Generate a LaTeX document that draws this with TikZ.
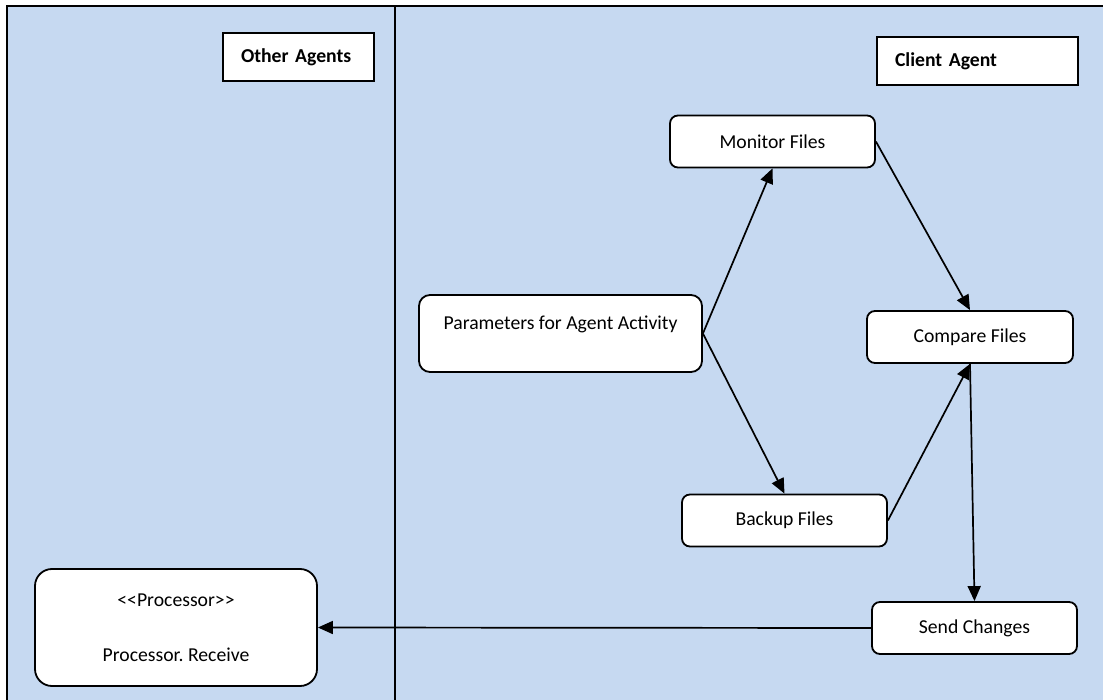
\documentclass[tikz,border=0pt]{standalone}
\usepackage{fontspec}
\setmainfont{Carlito}
\usepackage{tikz}
\usepackage{xcolor}
\usetikzlibrary{arrows.meta}
\definecolor{lane-blue}{HTML}{C6D9F1}
\newcommand{\stereo}[1]{\mbox{<}\mbox{<}#1\mbox{>}\mbox{>}}
\frenchspacing

\begin{document}
\begin{tikzpicture}
[
x=1pt, y=-1pt,
font=\fontsize{19.7}{23.6}\selectfont,
task-a/.style={draw, line width=1.8pt, fill=white, rounded corners=8pt, minimum width=205pt, minimum height=52pt, inner sep=0pt},
head-a/.style={draw, line width=1.8pt, fill=white, minimum height=48pt, inner xsep=18pt, align=left, font=\fontsize{19.7}{23.6}\selectfont\bfseries},
flow-a/.style={line width=1.7pt, -{Triangle[length=15pt,width=13pt]}}
]
\useasboundingbox [fill=white] (0,0) rectangle (1103,700);
% swimlanes
\fill [lane-blue] (7,6) rectangle (1103,700);
\draw [line width=1.4pt] (1103,6) -- (7,6) -- (7,700);
\draw [line width=1.4pt] (395,6) -- (395,700);
\node (other)   [head-a, text width=115pt                     ] at (298.5,57)   {Other Agents};
\node (client)  [head-a, text width=165pt                     ] at (977.5,61)   {Client Agent};
\node (params)  [task-a, minimum width=283pt, minimum height=77pt, rounded corners=11pt, text height=15pt, text depth=23pt] at (560.5,333.5) {Parameters for Agent Activity};
\node (monitor) [task-a                                       ] at (772.5,141.5) {Monitor Files};
\node (compare) [task-a, minimum width=206pt                  ] at (970,337)    {Compare Files};
\node (backup)  [task-a                                       ] at (784.5,520.5) {Backup Files};
\node (send)    [task-a                                       ] at (974.5,628)  {Send Changes};
\node (proc)    [task-a, minimum width=282pt, minimum height=117pt, rounded corners=17pt, align=center] at (176,627.5) {\stereo{Processor}\\[31pt]Processor. Receive};
% flows
\draw [flow-a] (params.east)  -- (monitor.south);
\draw [flow-a] (params.east)  -- (backup.north);
\draw [flow-a] (monitor.east) -- (compare.north);
\draw [flow-a] (backup.east)  -- (compare.south);
\draw [flow-a] (compare.south) -- (send.north);
\draw [flow-a] (send.west)    -- (proc.east);
\end{tikzpicture}
\end{document}
